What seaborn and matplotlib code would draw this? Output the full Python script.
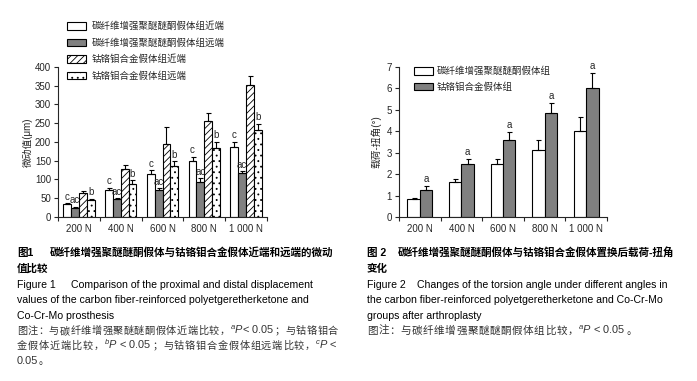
import numpy as np
import pandas as pd
import matplotlib
matplotlib.use("Agg")
import matplotlib.pyplot as plt
import seaborn as sns

# ---------------- data ----------------
loads = ['200 N', '400 N', '600 N', '800 N', '1 000 N']

groups1 = ['碳纤维增强聚醚醚酮假体组近端', '碳纤维增强聚醚醚酮假体组远端',
           '钴铬钼合金假体组近端', '钴铬钼合金假体组远端']
cfr_prox = [34, 73, 115, 150, 187]
cfr_prox_err = [3, 5, 9, 11, 14]
cfr_dist = [25, 47, 71, 94, 116]
cfr_dist_err = [2, 3, 6, 9, 6]
cocr_prox = [65, 129, 195, 257, 352]
cocr_prox_err = [4, 10, 46, 19, 23]
cocr_dist = [44, 89, 137, 185, 231]
cocr_dist_err = [4, 9, 11, 15, 17]
sig1 = ['c', 'ac', '', 'b']

groups2 = ['碳纤维增强聚醚醚酮假体组', '钴铬钼合金假体组']
cfr_angle = [0.82, 1.61, 2.45, 3.14, 4.02]
cfr_angle_err = [0.08, 0.18, 0.25, 0.46, 0.67]
cocr_angle = [1.24, 2.45, 3.60, 4.86, 6.00]
cocr_angle_err = [0.19, 0.25, 0.36, 0.45, 0.70]
sig2 = ['', 'a']

# ---------------- style ----------------
sns.set_style('ticks')
plt.rcParams['font.family'] = ['Liberation Sans', 'Noto Sans CJK SC']
plt.rcParams['mathtext.fontset'] = 'custom'
plt.rcParams['mathtext.rm'] = 'Liberation Sans'
plt.rcParams['mathtext.it'] = 'Liberation Sans:italic'
plt.rcParams['hatch.linewidth'] = 0.6
plt.rcParams['axes.linewidth'] = 0.8

W, H = 697, 381
fig = plt.figure(figsize=(W / 100, H / 100), dpi=100)


def ax_rect(x0, x1, y_top, y_bot):
    return [x0 / W, 1 - y_bot / H, (x1 - x0) / W, (y_bot - y_top) / H]


ax1 = fig.add_axes(ax_rect(58, 267, 67, 217))
ax2 = fig.add_axes(ax_rect(399, 607, 67, 217))

# ---------- chart 1 ----------
vals1 = [cfr_prox, cfr_dist, cocr_prox, cocr_dist]
errs1 = [cfr_prox_err, cfr_dist_err, cocr_prox_err, cocr_dist_err]
df1 = pd.DataFrame({
    'load': np.tile(loads, 4),
    'group': np.repeat(groups1, 5),
    'value': np.concatenate(vals1),
})
pal1 = dict(zip(groups1, ['white', '#808080', 'white', 'white']))
sns.barplot(data=df1, x='load', y='value', hue='group', hue_order=groups1,
            order=loads, palette=pal1, saturation=1, edgecolor='black',
            linewidth=0.8, width=0.75, gap=0, errorbar=None, legend=False,
            ax=ax1)
hatches1 = [None, None, '/////', '...']
for cont, hat, err, lab in zip(ax1.containers, hatches1, errs1, sig1):
    xs, tops = [], []
    for p in cont:
        if hat:
            p.set_hatch(hat)
        xs.append(p.get_x() + p.get_width() / 2)
        tops.append(p.get_height())
    xs = np.array(xs); tops = np.array(tops); err = np.array(err)
    ax1.errorbar(xs, tops, yerr=[np.zeros_like(err), err], fmt='none',
                 ecolor='black', elinewidth=0.8, capsize=1.8, capthick=0.8)
    if lab:
        for x, t, e in zip(xs, tops, err):
            ax1.text(x, t + e + 4, lab, ha='center', va='bottom', fontsize=7)

ax1.set_ylim(0, 400)
ax1.set_yticks(np.arange(0, 401, 50))
ax1.set_xlim(-0.5, 4.5)
ax1.set_xlabel('')
ax1.set_ylabel('微动值(μm)', fontsize=7, labelpad=1.5)

h1 = [c[0] for c in ax1.containers]
fig.legend(h1, groups1, loc='upper left', bbox_to_anchor=(67 / W, 1 - 21.5 / H),
           frameon=False, fontsize=6.8, handlelength=2.0, handleheight=0.85,
           handletextpad=0.6, labelspacing=0.73, borderpad=0, borderaxespad=0)

# ---------- chart 2 ----------
vals2 = [cfr_angle, cocr_angle]
errs2 = [cfr_angle_err, cocr_angle_err]
df2 = pd.DataFrame({
    'load': np.tile(loads, 2),
    'group': np.repeat(groups2, 5),
    'value': np.concatenate(vals2),
})
pal2 = dict(zip(groups2, ['white', '#808080']))
sns.barplot(data=df2, x='load', y='value', hue='group', hue_order=groups2,
            order=loads, palette=pal2, saturation=1, edgecolor='black',
            linewidth=0.8, width=0.6, gap=0, errorbar=None, legend=False,
            ax=ax2)
for cont, err, lab in zip(ax2.containers, errs2, sig2):
    xs = np.array([p.get_x() + p.get_width() / 2 for p in cont])
    tops = np.array([p.get_height() for p in cont])
    err = np.array(err)
    ax2.errorbar(xs, tops, yerr=[np.zeros_like(err), err], fmt='none',
                 ecolor='black', elinewidth=0.8, capsize=1.8, capthick=0.8)
    if lab:
        for x, t, e in zip(xs, tops, err):
            ax2.text(x, t + e + 0.1, lab, ha='center', va='bottom', fontsize=7)

ax2.set_ylim(0, 7)
ax2.set_yticks(np.arange(0, 8, 1))
ax2.set_xlim(-0.5, 4.5)
ax2.set_xlabel('')
ax2.set_ylabel('载荷-扭角(°)', fontsize=7, labelpad=4)

h2 = [c[0] for c in ax2.containers]
fig.legend(h2, groups2, loc='upper left', bbox_to_anchor=(414 / W, 1 - 66.5 / H),
           frameon=False, fontsize=6.8, handlelength=2.0, handleheight=0.85,
           handletextpad=0.4, labelspacing=0.66, borderpad=0, borderaxespad=0)

for ax in (ax1, ax2):
    sns.despine(ax=ax)
    ax.tick_params(axis='y', direction='out', length=3, width=0.8,
                   labelsize=7, pad=2)
    ax.tick_params(axis='x', which='major', length=0, labelsize=7, pad=5)
    ax.set_xticks(np.arange(-0.5, 5, 1), minor=True)
    ax.tick_params(axis='x', which='minor', direction='out', length=3,
                   width=0.8)

# ---------------- captions ----------------
renderer = fig.canvas.get_renderer()


def rich_line(x_px, y_px, segments, justify_to=None):
    """segments: (text, props[, split]) or (' ', gap_px)."""
    pieces = []
    for seg in segments:
        s, kw = seg[0], seg[1]
        split = len(seg) > 2 and seg[2]
        if s == ' ':
            pieces.append(('gap', kw))
            continue
        parts = list(s) if split else [s]
        for ch in parts:
            t = fig.text(0, 1 - y_px / H, ch, ha='left', va='baseline', **kw)
            pieces.append(('text', t))
    widths = []
    for kind, o in pieces:
        widths.append(o if kind == 'gap' else o.get_window_extent(renderer).width)
    natural = sum(widths)
    extra = 0.0
    ntext = sum(1 for k, _ in pieces if k == 'text')
    if justify_to is not None and ntext > 1:
        extra = max(0.0, (justify_to - x_px - natural) / (ntext - 1))
    x = x_px
    for (kind, o), w in zip(pieces, widths):
        if kind == 'text':
            o.set_x(x / W)
            x += w + extra
        else:
            x += w


cn_b = dict(fontsize=7.6, fontweight='bold', color='black')
en = dict(fontsize=7.6, color='black')
note = dict(fontsize=7.3, color='#333333')
latin = dict(fontsize=7.9, color='#333333')

base = [256, 272, 288, 303, 319, 334, 349, 364]

# left caption
lx = 17
rich_line(lx, base[0], [('图1', cn_b), (' ', 17), ('碳纤维增强聚醚醚酮假体与钴铬钼合金假体近端和远端的微动', cn_b)])
rich_line(lx, base[1], [('值比较', cn_b)])
rich_line(lx, base[2], [('Figure 1', en), (' ', 15), ('Comparison of the proximal and distal displacement', en)])
rich_line(lx, base[3], [('values of the carbon fiber-reinforced polyetgeretherketone and', en)])
rich_line(lx, base[4], [('Co-Cr-Mo prosthesis', en)])
rich_line(lx, base[5], [('图注：与碳纤维增强聚醚醚酮假体近端比较，', note, True),
                        (r'$^{a}P$< 0.05', latin), ('；与钴铬钼合', note, True)],
          justify_to=338)
rich_line(lx, base[6], [('金假体近端比较，', note, True), (r'$^{b}P$ < 0.05', latin),
                        ('；与钴铬钼合金假体组远端比较，', note, True), (r'$^{c}P$ <', latin)],
          justify_to=338)
rich_line(lx, base[7], [('0.05', latin), ('。', note)])

# right caption
rx = 367
rich_line(rx, base[0], [('图 2', cn_b), (' ', 12), ('碳纤维增强聚醚醚酮假体与钴铬钼合金假体置换后载荷-扭角', cn_b)])
rich_line(rx, base[1], [('变化', cn_b)])
rich_line(rx, base[2], [('Figure 2', en), (' ', 11), ('Changes of the torsion angle under different angles in', en)])
rich_line(rx, base[3], [('the carbon fiber-reinforced polyetgeretherketone and Co-Cr-Mo', en)])
rich_line(rx, base[4], [('groups after arthroplasty', en)])
rich_line(rx, base[5], [('图注：与碳纤维增强聚醚醚酮假体组比较，', dict(note, fontsize=7.6), True),
                        (r'$^{a}P$ < 0.05', latin), ('。', dict(note, fontsize=7.6))],
          justify_to=637)

fig.savefig('out.png', dpi=100)
